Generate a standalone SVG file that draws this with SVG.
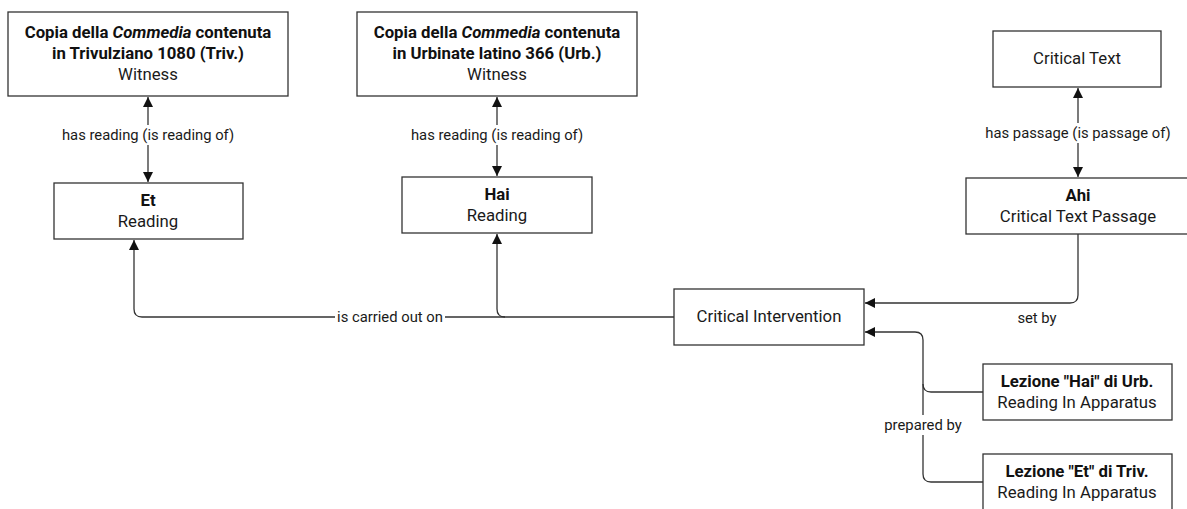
<svg xmlns="http://www.w3.org/2000/svg" width="1187" height="509" viewBox="0 0 1187 509">
  <defs>
    <marker id="arrow" viewBox="0 0 10 10" refX="10" refY="5" markerWidth="10" markerHeight="10" markerUnits="userSpaceOnUse" orient="auto-start-reverse">
      <path d="M0,0 L10,5 L0,10 z" fill="#111"/>
    </marker>
    <style>
      .box { fill: #fff; stroke: #333; stroke-width: 1.3; }
      .title { font-family: Roboto, "Liberation Sans", sans-serif; font-size: 16.75px; font-weight: bold; fill: #111; text-anchor: middle; }
      .type { font-family: Roboto, "Liberation Sans", sans-serif; font-size: 16.75px; fill: #1a1a1a; text-anchor: middle; }
      .edge { fill: none; stroke: #333; stroke-width: 1.3; }
      .label { font-family: Roboto, "Liberation Sans", sans-serif; font-size: 14.8px; fill: #1a1a1a; text-anchor: middle; }
      .bg { fill: #fff; }
    </style>
  </defs>
  <rect width="1187" height="509" fill="#fff"/>

  <!-- connectors -->
  <g id="connectors">
    <!-- has reading: Trivulziano witness <-> Et -->
    <path class="edge" d="M148,97 V182" marker-start="url(#arrow)" marker-end="url(#arrow)"/>
    <rect class="bg" x="60" y="125" width="176" height="20"/>
    <text class="label" x="148" y="140">has reading (is reading of)</text>

    <!-- has reading: Urbinate witness <-> Hai -->
    <path class="edge" d="M497,97 V176" marker-start="url(#arrow)" marker-end="url(#arrow)"/>
    <rect class="bg" x="409" y="125" width="176" height="20"/>
    <text class="label" x="497" y="140">has reading (is reading of)</text>

    <!-- has passage: Critical Text <-> Ahi -->
    <path class="edge" d="M1078,88 V177" marker-start="url(#arrow)" marker-end="url(#arrow)"/>
    <rect class="bg" x="978" y="123" width="200" height="20"/>
    <text class="label" x="1078" y="138">has passage (is passage of)</text>

    <!-- is carried out on: Critical Intervention -> Et, Hai -->
    <path class="edge" d="M674,317 H142 Q134,317 134,309 V240" marker-end="url(#arrow)"/>
    <path class="edge" d="M505,317 Q497,317 497,309 V234" marker-end="url(#arrow)"/>
    <rect class="bg" x="335" y="307" width="110" height="20"/>
    <text class="label" x="390" y="322">is carried out on</text>

    <!-- set by: Ahi -> Critical Intervention -->
    <path class="edge" d="M1078,234 V295 Q1078,303 1070,303 H865" marker-end="url(#arrow)"/>
    <text class="label" x="1037" y="323">set by</text>

    <!-- prepared by: readings in apparatus -> Critical Intervention -->
    <path class="edge" d="M983,392 H931 Q923,392 923,384 V340 Q923,332 915,332 H865" marker-end="url(#arrow)"/>
    <path class="edge" d="M983,482 H931 Q923,482 923,474 V384"/>
    <rect class="bg" x="880" y="415" width="86" height="20"/>
    <text class="label" x="923" y="430">prepared by</text>
  </g>

  <!-- nodes -->
  <g id="witness-triv">
    <rect class="box" x="8" y="12" width="280" height="84"/>
    <text class="title" x="148" y="38">Copia della <tspan font-style="italic">Commedia</tspan> contenuta</text>
    <text class="title" x="148" y="59">in Trivulziano 1080 (Triv.)</text>
    <text class="type" x="148" y="80">Witness</text>
  </g>

  <g id="witness-urb">
    <rect class="box" x="357" y="12" width="280" height="84"/>
    <text class="title" x="497" y="38">Copia della <tspan font-style="italic">Commedia</tspan> contenuta</text>
    <text class="title" x="497" y="59">in Urbinate latino 366 (Urb.)</text>
    <text class="type" x="497" y="80">Witness</text>
  </g>

  <g id="critical-text">
    <rect class="box" x="993" y="31" width="168" height="56"/>
    <text class="type" x="1077" y="64">Critical Text</text>
  </g>

  <g id="reading-et">
    <rect class="box" x="54" y="183" width="189" height="56"/>
    <text class="title" x="148" y="206">Et</text>
    <text class="type" x="148" y="227">Reading</text>
  </g>

  <g id="reading-hai">
    <rect class="box" x="402" y="177" width="190" height="56"/>
    <text class="title" x="497" y="200">Hai</text>
    <text class="type" x="497" y="221">Reading</text>
  </g>

  <g id="passage-ahi">
    <rect class="box" x="966" y="178" width="224" height="56"/>
    <text class="title" x="1078" y="201">Ahi</text>
    <text class="type" x="1078" y="222">Critical Text Passage</text>
  </g>

  <g id="critical-intervention">
    <rect class="box" x="674" y="289" width="190" height="56"/>
    <text class="type" x="769" y="322">Critical Intervention</text>
  </g>

  <g id="apparatus-hai">
    <rect class="box" x="983" y="364" width="189" height="56"/>
    <text class="title" x="1077" y="387">Lezione "Hai" di Urb.</text>
    <text class="type" x="1077" y="408">Reading In Apparatus</text>
  </g>

  <g id="apparatus-et">
    <rect class="box" x="983" y="454" width="189" height="56"/>
    <text class="title" x="1077" y="477">Lezione "Et" di Triv.</text>
    <text class="type" x="1077" y="498">Reading In Apparatus</text>
  </g>
</svg>
